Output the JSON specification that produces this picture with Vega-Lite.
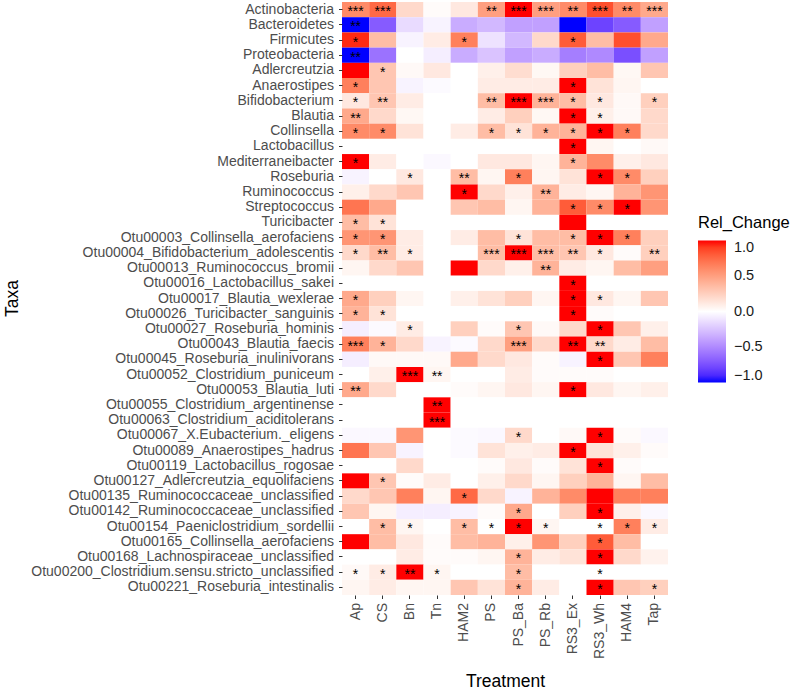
{
"$schema": "https://vega.github.io/schema/vega-lite/v6.json",
"width": 326, "height": 593,
"autosize": {"type": "none"},
"padding": {"left": 342, "top": 2, "right": 132, "bottom": 94},
"config": {"view": {"stroke": null}, "font": "Liberation Sans"},
"data": {"values": [
{"taxon":"Actinobacteria","trt":"Ap","value":0.6,"sig":"***"},{"taxon":"Actinobacteria","trt":"CS","value":0.75,"sig":"***"},{"taxon":"Actinobacteria","trt":"Bn","value":0.2,"sig":""},{"taxon":"Actinobacteria","trt":"Tn","value":0.02,"sig":""},{"taxon":"Actinobacteria","trt":"HAM2","value":0.12,"sig":""},{"taxon":"Actinobacteria","trt":"PS","value":0.5,"sig":"**"},{"taxon":"Actinobacteria","trt":"PS_Ba","value":1,"sig":"***"},{"taxon":"Actinobacteria","trt":"PS_Rb","value":0.5,"sig":"***"},{"taxon":"Actinobacteria","trt":"RS3_Ex","value":0.6,"sig":"**"},{"taxon":"Actinobacteria","trt":"RS3_Wh","value":0.85,"sig":"***"},{"taxon":"Actinobacteria","trt":"HAM4","value":0.6,"sig":"**"},{"taxon":"Actinobacteria","trt":"Tap","value":0.45,"sig":"***"},
{"taxon":"Bacteroidetes","trt":"Ap","value":-1,"sig":"**"},{"taxon":"Bacteroidetes","trt":"CS","value":-0.7,"sig":""},{"taxon":"Bacteroidetes","trt":"Bn","value":-0.15,"sig":""},{"taxon":"Bacteroidetes","trt":"Tn","value":-0.05,"sig":""},{"taxon":"Bacteroidetes","trt":"HAM2","value":-0.35,"sig":""},{"taxon":"Bacteroidetes","trt":"PS","value":-0.3,"sig":""},{"taxon":"Bacteroidetes","trt":"PS_Ba","value":-0.4,"sig":""},{"taxon":"Bacteroidetes","trt":"PS_Rb","value":-0.4,"sig":""},{"taxon":"Bacteroidetes","trt":"RS3_Ex","value":-1,"sig":""},{"taxon":"Bacteroidetes","trt":"RS3_Wh","value":-0.8,"sig":""},{"taxon":"Bacteroidetes","trt":"HAM4","value":-0.7,"sig":""},{"taxon":"Bacteroidetes","trt":"Tap","value":-0.4,"sig":""},
{"taxon":"Firmicutes","trt":"Ap","value":0.95,"sig":"*"},{"taxon":"Firmicutes","trt":"CS","value":0.35,"sig":""},{"taxon":"Firmicutes","trt":"Bn","value":-0.05,"sig":""},{"taxon":"Firmicutes","trt":"Tn","value":0.1,"sig":""},{"taxon":"Firmicutes","trt":"HAM2","value":0.65,"sig":"*"},{"taxon":"Firmicutes","trt":"PS","value":-0.12,"sig":""},{"taxon":"Firmicutes","trt":"PS_Ba","value":-0.3,"sig":""},{"taxon":"Firmicutes","trt":"PS_Rb","value":0.2,"sig":""},{"taxon":"Firmicutes","trt":"RS3_Ex","value":0.8,"sig":"*"},{"taxon":"Firmicutes","trt":"RS3_Wh","value":0.35,"sig":""},{"taxon":"Firmicutes","trt":"HAM4","value":0.85,"sig":""},{"taxon":"Firmicutes","trt":"Tap","value":0.45,"sig":""},
{"taxon":"Proteobacteria","trt":"Ap","value":-1,"sig":"**"},{"taxon":"Proteobacteria","trt":"CS","value":-0.6,"sig":""},{"taxon":"Proteobacteria","trt":"Bn","value":0,"sig":""},{"taxon":"Proteobacteria","trt":"Tn","value":-0.07,"sig":""},{"taxon":"Proteobacteria","trt":"HAM2","value":-0.35,"sig":""},{"taxon":"Proteobacteria","trt":"PS","value":-0.25,"sig":""},{"taxon":"Proteobacteria","trt":"PS_Ba","value":-0.4,"sig":""},{"taxon":"Proteobacteria","trt":"PS_Rb","value":-0.35,"sig":""},{"taxon":"Proteobacteria","trt":"RS3_Ex","value":-0.55,"sig":""},{"taxon":"Proteobacteria","trt":"RS3_Wh","value":-0.5,"sig":""},{"taxon":"Proteobacteria","trt":"HAM4","value":-0.75,"sig":""},{"taxon":"Proteobacteria","trt":"Tap","value":-0.4,"sig":""},
{"taxon":"Adlercreutzia","trt":"Ap","value":1,"sig":""},{"taxon":"Adlercreutzia","trt":"CS","value":0.3,"sig":"*"},{"taxon":"Adlercreutzia","trt":"Bn","value":0.03,"sig":""},{"taxon":"Adlercreutzia","trt":"Tn","value":0.12,"sig":""},{"taxon":"Adlercreutzia","trt":"HAM2","value":0,"sig":""},{"taxon":"Adlercreutzia","trt":"PS","value":0.08,"sig":""},{"taxon":"Adlercreutzia","trt":"PS_Ba","value":0.18,"sig":""},{"taxon":"Adlercreutzia","trt":"PS_Rb","value":0.04,"sig":""},{"taxon":"Adlercreutzia","trt":"RS3_Ex","value":0.25,"sig":""},{"taxon":"Adlercreutzia","trt":"RS3_Wh","value":0.35,"sig":""},{"taxon":"Adlercreutzia","trt":"HAM4","value":0.04,"sig":""},{"taxon":"Adlercreutzia","trt":"Tap","value":0.3,"sig":""},
{"taxon":"Anaerostipes","trt":"Ap","value":0.65,"sig":"*"},{"taxon":"Anaerostipes","trt":"CS","value":0.3,"sig":""},{"taxon":"Anaerostipes","trt":"Bn","value":-0.05,"sig":""},{"taxon":"Anaerostipes","trt":"Tn","value":-0.02,"sig":""},{"taxon":"Anaerostipes","trt":"HAM2","value":0,"sig":""},{"taxon":"Anaerostipes","trt":"PS","value":0.1,"sig":""},{"taxon":"Anaerostipes","trt":"PS_Ba","value":0.1,"sig":""},{"taxon":"Anaerostipes","trt":"PS_Rb","value":0.1,"sig":""},{"taxon":"Anaerostipes","trt":"RS3_Ex","value":1,"sig":"*"},{"taxon":"Anaerostipes","trt":"RS3_Wh","value":0.15,"sig":""},{"taxon":"Anaerostipes","trt":"HAM4","value":0.05,"sig":""},{"taxon":"Anaerostipes","trt":"Tap","value":0,"sig":""},
{"taxon":"Bifidobacterium","trt":"Ap","value":0.12,"sig":"*"},{"taxon":"Bifidobacterium","trt":"CS","value":0.3,"sig":"**"},{"taxon":"Bifidobacterium","trt":"Bn","value":0.1,"sig":""},{"taxon":"Bifidobacterium","trt":"Tn","value":0,"sig":""},{"taxon":"Bifidobacterium","trt":"HAM2","value":0,"sig":""},{"taxon":"Bifidobacterium","trt":"PS","value":0.35,"sig":"**"},{"taxon":"Bifidobacterium","trt":"PS_Ba","value":1,"sig":"***"},{"taxon":"Bifidobacterium","trt":"PS_Rb","value":0.4,"sig":"***"},{"taxon":"Bifidobacterium","trt":"RS3_Ex","value":0.35,"sig":"*"},{"taxon":"Bifidobacterium","trt":"RS3_Wh","value":0.12,"sig":"*"},{"taxon":"Bifidobacterium","trt":"HAM4","value":0.03,"sig":""},{"taxon":"Bifidobacterium","trt":"Tap","value":0.25,"sig":"*"},
{"taxon":"Blautia","trt":"Ap","value":0.45,"sig":"**"},{"taxon":"Blautia","trt":"CS","value":0.2,"sig":""},{"taxon":"Blautia","trt":"Bn","value":0.04,"sig":""},{"taxon":"Blautia","trt":"Tn","value":0,"sig":""},{"taxon":"Blautia","trt":"HAM2","value":0,"sig":""},{"taxon":"Blautia","trt":"PS","value":0.1,"sig":""},{"taxon":"Blautia","trt":"PS_Ba","value":0.25,"sig":""},{"taxon":"Blautia","trt":"PS_Rb","value":0.04,"sig":""},{"taxon":"Blautia","trt":"RS3_Ex","value":1,"sig":"*"},{"taxon":"Blautia","trt":"RS3_Wh","value":0.08,"sig":"*"},{"taxon":"Blautia","trt":"HAM4","value":0.03,"sig":""},{"taxon":"Blautia","trt":"Tap","value":0.2,"sig":""},
{"taxon":"Collinsella","trt":"Ap","value":0.6,"sig":"*"},{"taxon":"Collinsella","trt":"CS","value":0.6,"sig":"*"},{"taxon":"Collinsella","trt":"Bn","value":0.15,"sig":""},{"taxon":"Collinsella","trt":"Tn","value":0,"sig":""},{"taxon":"Collinsella","trt":"HAM2","value":0.1,"sig":""},{"taxon":"Collinsella","trt":"PS","value":0.35,"sig":"*"},{"taxon":"Collinsella","trt":"PS_Ba","value":0.15,"sig":"*"},{"taxon":"Collinsella","trt":"PS_Rb","value":0.4,"sig":"*"},{"taxon":"Collinsella","trt":"RS3_Ex","value":0.4,"sig":"*"},{"taxon":"Collinsella","trt":"RS3_Wh","value":1,"sig":"*"},{"taxon":"Collinsella","trt":"HAM4","value":0.65,"sig":"*"},{"taxon":"Collinsella","trt":"Tap","value":0.2,"sig":""},
{"taxon":"Lactobacillus","trt":"Ap","value":0,"sig":""},{"taxon":"Lactobacillus","trt":"CS","value":0,"sig":""},{"taxon":"Lactobacillus","trt":"Bn","value":0,"sig":""},{"taxon":"Lactobacillus","trt":"Tn","value":0,"sig":""},{"taxon":"Lactobacillus","trt":"HAM2","value":0,"sig":""},{"taxon":"Lactobacillus","trt":"PS","value":0,"sig":""},{"taxon":"Lactobacillus","trt":"PS_Ba","value":0,"sig":""},{"taxon":"Lactobacillus","trt":"PS_Rb","value":0,"sig":""},{"taxon":"Lactobacillus","trt":"RS3_Ex","value":1,"sig":"*"},{"taxon":"Lactobacillus","trt":"RS3_Wh","value":0.05,"sig":""},{"taxon":"Lactobacillus","trt":"HAM4","value":0,"sig":""},{"taxon":"Lactobacillus","trt":"Tap","value":0.03,"sig":""},
{"taxon":"Mediterraneibacter","trt":"Ap","value":1,"sig":"*"},{"taxon":"Mediterraneibacter","trt":"CS","value":0.1,"sig":""},{"taxon":"Mediterraneibacter","trt":"Bn","value":0,"sig":""},{"taxon":"Mediterraneibacter","trt":"Tn","value":-0.03,"sig":""},{"taxon":"Mediterraneibacter","trt":"HAM2","value":0,"sig":""},{"taxon":"Mediterraneibacter","trt":"PS","value":0.12,"sig":""},{"taxon":"Mediterraneibacter","trt":"PS_Ba","value":0.12,"sig":""},{"taxon":"Mediterraneibacter","trt":"PS_Rb","value":0.05,"sig":""},{"taxon":"Mediterraneibacter","trt":"RS3_Ex","value":0.4,"sig":"*"},{"taxon":"Mediterraneibacter","trt":"RS3_Wh","value":0.6,"sig":""},{"taxon":"Mediterraneibacter","trt":"HAM4","value":0.08,"sig":""},{"taxon":"Mediterraneibacter","trt":"Tap","value":0.12,"sig":""},
{"taxon":"Roseburia","trt":"Ap","value":-0.05,"sig":""},{"taxon":"Roseburia","trt":"CS","value":0,"sig":""},{"taxon":"Roseburia","trt":"Bn","value":0.12,"sig":"*"},{"taxon":"Roseburia","trt":"Tn","value":0,"sig":""},{"taxon":"Roseburia","trt":"HAM2","value":0.35,"sig":"**"},{"taxon":"Roseburia","trt":"PS","value":0.05,"sig":""},{"taxon":"Roseburia","trt":"PS_Ba","value":0.65,"sig":"*"},{"taxon":"Roseburia","trt":"PS_Rb","value":0.05,"sig":""},{"taxon":"Roseburia","trt":"RS3_Ex","value":0.15,"sig":""},{"taxon":"Roseburia","trt":"RS3_Wh","value":1,"sig":"*"},{"taxon":"Roseburia","trt":"HAM4","value":0.6,"sig":"*"},{"taxon":"Roseburia","trt":"Tap","value":0.25,"sig":""},
{"taxon":"Ruminococcus","trt":"Ap","value":0.08,"sig":""},{"taxon":"Ruminococcus","trt":"CS","value":0.2,"sig":""},{"taxon":"Ruminococcus","trt":"Bn","value":0.3,"sig":""},{"taxon":"Ruminococcus","trt":"Tn","value":0,"sig":""},{"taxon":"Ruminococcus","trt":"HAM2","value":1,"sig":"*"},{"taxon":"Ruminococcus","trt":"PS","value":0.2,"sig":""},{"taxon":"Ruminococcus","trt":"PS_Ba","value":0.08,"sig":""},{"taxon":"Ruminococcus","trt":"PS_Rb","value":0.4,"sig":"**"},{"taxon":"Ruminococcus","trt":"RS3_Ex","value":0.1,"sig":""},{"taxon":"Ruminococcus","trt":"RS3_Wh","value":0.05,"sig":""},{"taxon":"Ruminococcus","trt":"HAM4","value":0.4,"sig":""},{"taxon":"Ruminococcus","trt":"Tap","value":0.55,"sig":""},
{"taxon":"Streptococcus","trt":"Ap","value":0.7,"sig":""},{"taxon":"Streptococcus","trt":"CS","value":0.45,"sig":""},{"taxon":"Streptococcus","trt":"Bn","value":0,"sig":""},{"taxon":"Streptococcus","trt":"Tn","value":0,"sig":""},{"taxon":"Streptococcus","trt":"HAM2","value":0.3,"sig":""},{"taxon":"Streptococcus","trt":"PS","value":0.35,"sig":""},{"taxon":"Streptococcus","trt":"PS_Ba","value":0.05,"sig":""},{"taxon":"Streptococcus","trt":"PS_Rb","value":0.4,"sig":""},{"taxon":"Streptococcus","trt":"RS3_Ex","value":0.8,"sig":"*"},{"taxon":"Streptococcus","trt":"RS3_Wh","value":0.6,"sig":"*"},{"taxon":"Streptococcus","trt":"HAM4","value":1,"sig":"*"},{"taxon":"Streptococcus","trt":"Tap","value":0.55,"sig":""},
{"taxon":"Turicibacter","trt":"Ap","value":0.35,"sig":"*"},{"taxon":"Turicibacter","trt":"CS","value":0.15,"sig":"*"},{"taxon":"Turicibacter","trt":"Bn","value":0,"sig":""},{"taxon":"Turicibacter","trt":"Tn","value":0,"sig":""},{"taxon":"Turicibacter","trt":"HAM2","value":0,"sig":""},{"taxon":"Turicibacter","trt":"PS","value":0,"sig":""},{"taxon":"Turicibacter","trt":"PS_Ba","value":0,"sig":""},{"taxon":"Turicibacter","trt":"PS_Rb","value":0,"sig":""},{"taxon":"Turicibacter","trt":"RS3_Ex","value":1,"sig":""},{"taxon":"Turicibacter","trt":"RS3_Wh","value":0,"sig":""},{"taxon":"Turicibacter","trt":"HAM4","value":0,"sig":""},{"taxon":"Turicibacter","trt":"Tap","value":0,"sig":""},
{"taxon":"Otu00003_Collinsella_aerofaciens","trt":"Ap","value":0.55,"sig":"*"},{"taxon":"Otu00003_Collinsella_aerofaciens","trt":"CS","value":0.55,"sig":"*"},{"taxon":"Otu00003_Collinsella_aerofaciens","trt":"Bn","value":0.1,"sig":""},{"taxon":"Otu00003_Collinsella_aerofaciens","trt":"Tn","value":0,"sig":""},{"taxon":"Otu00003_Collinsella_aerofaciens","trt":"HAM2","value":0.1,"sig":""},{"taxon":"Otu00003_Collinsella_aerofaciens","trt":"PS","value":0.35,"sig":""},{"taxon":"Otu00003_Collinsella_aerofaciens","trt":"PS_Ba","value":0.15,"sig":"*"},{"taxon":"Otu00003_Collinsella_aerofaciens","trt":"PS_Rb","value":0.35,"sig":""},{"taxon":"Otu00003_Collinsella_aerofaciens","trt":"RS3_Ex","value":0.35,"sig":"*"},{"taxon":"Otu00003_Collinsella_aerofaciens","trt":"RS3_Wh","value":1,"sig":"*"},{"taxon":"Otu00003_Collinsella_aerofaciens","trt":"HAM4","value":0.65,"sig":"*"},{"taxon":"Otu00003_Collinsella_aerofaciens","trt":"Tap","value":0.25,"sig":""},
{"taxon":"Otu00004_Bifidobacterium_adolescentis","trt":"Ap","value":0.2,"sig":"*"},{"taxon":"Otu00004_Bifidobacterium_adolescentis","trt":"CS","value":0.35,"sig":"**"},{"taxon":"Otu00004_Bifidobacterium_adolescentis","trt":"Bn","value":0.1,"sig":"*"},{"taxon":"Otu00004_Bifidobacterium_adolescentis","trt":"Tn","value":0,"sig":""},{"taxon":"Otu00004_Bifidobacterium_adolescentis","trt":"HAM2","value":0,"sig":""},{"taxon":"Otu00004_Bifidobacterium_adolescentis","trt":"PS","value":0.35,"sig":"***"},{"taxon":"Otu00004_Bifidobacterium_adolescentis","trt":"PS_Ba","value":1,"sig":"***"},{"taxon":"Otu00004_Bifidobacterium_adolescentis","trt":"PS_Rb","value":0.35,"sig":"***"},{"taxon":"Otu00004_Bifidobacterium_adolescentis","trt":"RS3_Ex","value":0.3,"sig":"**"},{"taxon":"Otu00004_Bifidobacterium_adolescentis","trt":"RS3_Wh","value":0.12,"sig":"*"},{"taxon":"Otu00004_Bifidobacterium_adolescentis","trt":"HAM4","value":0.02,"sig":""},{"taxon":"Otu00004_Bifidobacterium_adolescentis","trt":"Tap","value":0.25,"sig":"**"},
{"taxon":"Otu00013_Ruminococcus_bromii","trt":"Ap","value":0.05,"sig":""},{"taxon":"Otu00013_Ruminococcus_bromii","trt":"CS","value":0.2,"sig":""},{"taxon":"Otu00013_Ruminococcus_bromii","trt":"Bn","value":0.3,"sig":""},{"taxon":"Otu00013_Ruminococcus_bromii","trt":"Tn","value":0,"sig":""},{"taxon":"Otu00013_Ruminococcus_bromii","trt":"HAM2","value":1,"sig":""},{"taxon":"Otu00013_Ruminococcus_bromii","trt":"PS","value":0.2,"sig":""},{"taxon":"Otu00013_Ruminococcus_bromii","trt":"PS_Ba","value":0.08,"sig":""},{"taxon":"Otu00013_Ruminococcus_bromii","trt":"PS_Rb","value":0.4,"sig":"**"},{"taxon":"Otu00013_Ruminococcus_bromii","trt":"RS3_Ex","value":0.1,"sig":""},{"taxon":"Otu00013_Ruminococcus_bromii","trt":"RS3_Wh","value":0.05,"sig":""},{"taxon":"Otu00013_Ruminococcus_bromii","trt":"HAM4","value":0.35,"sig":""},{"taxon":"Otu00013_Ruminococcus_bromii","trt":"Tap","value":0.5,"sig":""},
{"taxon":"Otu00016_Lactobacillus_sakei","trt":"Ap","value":0,"sig":""},{"taxon":"Otu00016_Lactobacillus_sakei","trt":"CS","value":0,"sig":""},{"taxon":"Otu00016_Lactobacillus_sakei","trt":"Bn","value":0,"sig":""},{"taxon":"Otu00016_Lactobacillus_sakei","trt":"Tn","value":0,"sig":""},{"taxon":"Otu00016_Lactobacillus_sakei","trt":"HAM2","value":0,"sig":""},{"taxon":"Otu00016_Lactobacillus_sakei","trt":"PS","value":0,"sig":""},{"taxon":"Otu00016_Lactobacillus_sakei","trt":"PS_Ba","value":0,"sig":""},{"taxon":"Otu00016_Lactobacillus_sakei","trt":"PS_Rb","value":0,"sig":""},{"taxon":"Otu00016_Lactobacillus_sakei","trt":"RS3_Ex","value":1,"sig":"*"},{"taxon":"Otu00016_Lactobacillus_sakei","trt":"RS3_Wh","value":0,"sig":""},{"taxon":"Otu00016_Lactobacillus_sakei","trt":"HAM4","value":0,"sig":""},{"taxon":"Otu00016_Lactobacillus_sakei","trt":"Tap","value":0,"sig":""},
{"taxon":"Otu00017_Blautia_wexlerae","trt":"Ap","value":0.45,"sig":"*"},{"taxon":"Otu00017_Blautia_wexlerae","trt":"CS","value":0.25,"sig":""},{"taxon":"Otu00017_Blautia_wexlerae","trt":"Bn","value":0.05,"sig":""},{"taxon":"Otu00017_Blautia_wexlerae","trt":"Tn","value":0,"sig":""},{"taxon":"Otu00017_Blautia_wexlerae","trt":"HAM2","value":0.08,"sig":""},{"taxon":"Otu00017_Blautia_wexlerae","trt":"PS","value":0.15,"sig":""},{"taxon":"Otu00017_Blautia_wexlerae","trt":"PS_Ba","value":0.25,"sig":""},{"taxon":"Otu00017_Blautia_wexlerae","trt":"PS_Rb","value":0.05,"sig":""},{"taxon":"Otu00017_Blautia_wexlerae","trt":"RS3_Ex","value":1,"sig":"*"},{"taxon":"Otu00017_Blautia_wexlerae","trt":"RS3_Wh","value":0.12,"sig":"*"},{"taxon":"Otu00017_Blautia_wexlerae","trt":"HAM4","value":0.05,"sig":""},{"taxon":"Otu00017_Blautia_wexlerae","trt":"Tap","value":0.3,"sig":""},
{"taxon":"Otu00026_Turicibacter_sanguinis","trt":"Ap","value":0.4,"sig":"*"},{"taxon":"Otu00026_Turicibacter_sanguinis","trt":"CS","value":0.15,"sig":"*"},{"taxon":"Otu00026_Turicibacter_sanguinis","trt":"Bn","value":0,"sig":""},{"taxon":"Otu00026_Turicibacter_sanguinis","trt":"Tn","value":0,"sig":""},{"taxon":"Otu00026_Turicibacter_sanguinis","trt":"HAM2","value":0,"sig":""},{"taxon":"Otu00026_Turicibacter_sanguinis","trt":"PS","value":0,"sig":""},{"taxon":"Otu00026_Turicibacter_sanguinis","trt":"PS_Ba","value":0,"sig":""},{"taxon":"Otu00026_Turicibacter_sanguinis","trt":"PS_Rb","value":0,"sig":""},{"taxon":"Otu00026_Turicibacter_sanguinis","trt":"RS3_Ex","value":1,"sig":"*"},{"taxon":"Otu00026_Turicibacter_sanguinis","trt":"RS3_Wh","value":0.02,"sig":""},{"taxon":"Otu00026_Turicibacter_sanguinis","trt":"HAM4","value":0,"sig":""},{"taxon":"Otu00026_Turicibacter_sanguinis","trt":"Tap","value":0,"sig":""},
{"taxon":"Otu00027_Roseburia_hominis","trt":"Ap","value":-0.07,"sig":""},{"taxon":"Otu00027_Roseburia_hominis","trt":"CS","value":-0.02,"sig":""},{"taxon":"Otu00027_Roseburia_hominis","trt":"Bn","value":0.1,"sig":"*"},{"taxon":"Otu00027_Roseburia_hominis","trt":"Tn","value":0,"sig":""},{"taxon":"Otu00027_Roseburia_hominis","trt":"HAM2","value":0.25,"sig":""},{"taxon":"Otu00027_Roseburia_hominis","trt":"PS","value":0.02,"sig":""},{"taxon":"Otu00027_Roseburia_hominis","trt":"PS_Ba","value":0.3,"sig":"*"},{"taxon":"Otu00027_Roseburia_hominis","trt":"PS_Rb","value":0.03,"sig":""},{"taxon":"Otu00027_Roseburia_hominis","trt":"RS3_Ex","value":0.2,"sig":""},{"taxon":"Otu00027_Roseburia_hominis","trt":"RS3_Wh","value":1,"sig":"*"},{"taxon":"Otu00027_Roseburia_hominis","trt":"HAM4","value":0.3,"sig":""},{"taxon":"Otu00027_Roseburia_hominis","trt":"Tap","value":0.08,"sig":""},
{"taxon":"Otu00043_Blautia_faecis","trt":"Ap","value":0.65,"sig":"***"},{"taxon":"Otu00043_Blautia_faecis","trt":"CS","value":0.4,"sig":"*"},{"taxon":"Otu00043_Blautia_faecis","trt":"Bn","value":0.2,"sig":""},{"taxon":"Otu00043_Blautia_faecis","trt":"Tn","value":-0.05,"sig":""},{"taxon":"Otu00043_Blautia_faecis","trt":"HAM2","value":-0.02,"sig":""},{"taxon":"Otu00043_Blautia_faecis","trt":"PS","value":0.2,"sig":""},{"taxon":"Otu00043_Blautia_faecis","trt":"PS_Ba","value":0.5,"sig":"***"},{"taxon":"Otu00043_Blautia_faecis","trt":"PS_Rb","value":0.2,"sig":""},{"taxon":"Otu00043_Blautia_faecis","trt":"RS3_Ex","value":1,"sig":"**"},{"taxon":"Otu00043_Blautia_faecis","trt":"RS3_Wh","value":0.2,"sig":"**"},{"taxon":"Otu00043_Blautia_faecis","trt":"HAM4","value":0.1,"sig":""},{"taxon":"Otu00043_Blautia_faecis","trt":"Tap","value":0.35,"sig":""},
{"taxon":"Otu00045_Roseburia_inulinivorans","trt":"Ap","value":-0.07,"sig":""},{"taxon":"Otu00045_Roseburia_inulinivorans","trt":"CS","value":0.03,"sig":""},{"taxon":"Otu00045_Roseburia_inulinivorans","trt":"Bn","value":0.03,"sig":""},{"taxon":"Otu00045_Roseburia_inulinivorans","trt":"Tn","value":0.03,"sig":""},{"taxon":"Otu00045_Roseburia_inulinivorans","trt":"HAM2","value":0.45,"sig":""},{"taxon":"Otu00045_Roseburia_inulinivorans","trt":"PS","value":0.2,"sig":""},{"taxon":"Otu00045_Roseburia_inulinivorans","trt":"PS_Ba","value":0.12,"sig":""},{"taxon":"Otu00045_Roseburia_inulinivorans","trt":"PS_Rb","value":0.02,"sig":""},{"taxon":"Otu00045_Roseburia_inulinivorans","trt":"RS3_Ex","value":-0.05,"sig":""},{"taxon":"Otu00045_Roseburia_inulinivorans","trt":"RS3_Wh","value":1,"sig":"*"},{"taxon":"Otu00045_Roseburia_inulinivorans","trt":"HAM4","value":0.3,"sig":""},{"taxon":"Otu00045_Roseburia_inulinivorans","trt":"Tap","value":0.65,"sig":""},
{"taxon":"Otu00052_Clostridium_puniceum","trt":"Ap","value":0,"sig":""},{"taxon":"Otu00052_Clostridium_puniceum","trt":"CS","value":0.08,"sig":""},{"taxon":"Otu00052_Clostridium_puniceum","trt":"Bn","value":1,"sig":"***"},{"taxon":"Otu00052_Clostridium_puniceum","trt":"Tn","value":0.05,"sig":"**"},{"taxon":"Otu00052_Clostridium_puniceum","trt":"HAM2","value":0,"sig":""},{"taxon":"Otu00052_Clostridium_puniceum","trt":"PS","value":0,"sig":""},{"taxon":"Otu00052_Clostridium_puniceum","trt":"PS_Ba","value":0.1,"sig":""},{"taxon":"Otu00052_Clostridium_puniceum","trt":"PS_Rb","value":0.02,"sig":""},{"taxon":"Otu00052_Clostridium_puniceum","trt":"RS3_Ex","value":0.02,"sig":""},{"taxon":"Otu00052_Clostridium_puniceum","trt":"RS3_Wh","value":0.02,"sig":""},{"taxon":"Otu00052_Clostridium_puniceum","trt":"HAM4","value":0,"sig":""},{"taxon":"Otu00052_Clostridium_puniceum","trt":"Tap","value":0,"sig":""},
{"taxon":"Otu00053_Blautia_luti","trt":"Ap","value":0.45,"sig":"**"},{"taxon":"Otu00053_Blautia_luti","trt":"CS","value":0.2,"sig":""},{"taxon":"Otu00053_Blautia_luti","trt":"Bn","value":0,"sig":""},{"taxon":"Otu00053_Blautia_luti","trt":"Tn","value":0,"sig":""},{"taxon":"Otu00053_Blautia_luti","trt":"HAM2","value":0.02,"sig":""},{"taxon":"Otu00053_Blautia_luti","trt":"PS","value":0.05,"sig":""},{"taxon":"Otu00053_Blautia_luti","trt":"PS_Ba","value":0.12,"sig":""},{"taxon":"Otu00053_Blautia_luti","trt":"PS_Rb","value":0.05,"sig":""},{"taxon":"Otu00053_Blautia_luti","trt":"RS3_Ex","value":1,"sig":"*"},{"taxon":"Otu00053_Blautia_luti","trt":"RS3_Wh","value":0.12,"sig":""},{"taxon":"Otu00053_Blautia_luti","trt":"HAM4","value":0.05,"sig":""},{"taxon":"Otu00053_Blautia_luti","trt":"Tap","value":0.08,"sig":""},
{"taxon":"Otu00055_Clostridium_argentinense","trt":"Ap","value":0,"sig":""},{"taxon":"Otu00055_Clostridium_argentinense","trt":"CS","value":0,"sig":""},{"taxon":"Otu00055_Clostridium_argentinense","trt":"Bn","value":0,"sig":""},{"taxon":"Otu00055_Clostridium_argentinense","trt":"Tn","value":1,"sig":"**"},{"taxon":"Otu00055_Clostridium_argentinense","trt":"HAM2","value":0,"sig":""},{"taxon":"Otu00055_Clostridium_argentinense","trt":"PS","value":0,"sig":""},{"taxon":"Otu00055_Clostridium_argentinense","trt":"PS_Ba","value":0,"sig":""},{"taxon":"Otu00055_Clostridium_argentinense","trt":"PS_Rb","value":0,"sig":""},{"taxon":"Otu00055_Clostridium_argentinense","trt":"RS3_Ex","value":0,"sig":""},{"taxon":"Otu00055_Clostridium_argentinense","trt":"RS3_Wh","value":0,"sig":""},{"taxon":"Otu00055_Clostridium_argentinense","trt":"HAM4","value":0,"sig":""},{"taxon":"Otu00055_Clostridium_argentinense","trt":"Tap","value":0,"sig":""},
{"taxon":"Otu00063_Clostridium_aciditolerans","trt":"Ap","value":0,"sig":""},{"taxon":"Otu00063_Clostridium_aciditolerans","trt":"CS","value":0,"sig":""},{"taxon":"Otu00063_Clostridium_aciditolerans","trt":"Bn","value":0,"sig":""},{"taxon":"Otu00063_Clostridium_aciditolerans","trt":"Tn","value":1,"sig":"***"},{"taxon":"Otu00063_Clostridium_aciditolerans","trt":"HAM2","value":0,"sig":""},{"taxon":"Otu00063_Clostridium_aciditolerans","trt":"PS","value":0,"sig":""},{"taxon":"Otu00063_Clostridium_aciditolerans","trt":"PS_Ba","value":0,"sig":""},{"taxon":"Otu00063_Clostridium_aciditolerans","trt":"PS_Rb","value":0,"sig":""},{"taxon":"Otu00063_Clostridium_aciditolerans","trt":"RS3_Ex","value":0,"sig":""},{"taxon":"Otu00063_Clostridium_aciditolerans","trt":"RS3_Wh","value":0,"sig":""},{"taxon":"Otu00063_Clostridium_aciditolerans","trt":"HAM4","value":0,"sig":""},{"taxon":"Otu00063_Clostridium_aciditolerans","trt":"Tap","value":0,"sig":""},
{"taxon":"Otu00067_X.Eubacterium._eligens","trt":"Ap","value":-0.03,"sig":""},{"taxon":"Otu00067_X.Eubacterium._eligens","trt":"CS","value":-0.03,"sig":""},{"taxon":"Otu00067_X.Eubacterium._eligens","trt":"Bn","value":0.55,"sig":""},{"taxon":"Otu00067_X.Eubacterium._eligens","trt":"Tn","value":0,"sig":""},{"taxon":"Otu00067_X.Eubacterium._eligens","trt":"HAM2","value":-0.02,"sig":""},{"taxon":"Otu00067_X.Eubacterium._eligens","trt":"PS","value":-0.03,"sig":""},{"taxon":"Otu00067_X.Eubacterium._eligens","trt":"PS_Ba","value":0.2,"sig":"*"},{"taxon":"Otu00067_X.Eubacterium._eligens","trt":"PS_Rb","value":0,"sig":""},{"taxon":"Otu00067_X.Eubacterium._eligens","trt":"RS3_Ex","value":0.03,"sig":""},{"taxon":"Otu00067_X.Eubacterium._eligens","trt":"RS3_Wh","value":1,"sig":"*"},{"taxon":"Otu00067_X.Eubacterium._eligens","trt":"HAM4","value":0.02,"sig":""},{"taxon":"Otu00067_X.Eubacterium._eligens","trt":"Tap","value":-0.03,"sig":""},
{"taxon":"Otu00089_Anaerostipes_hadrus","trt":"Ap","value":0.7,"sig":""},{"taxon":"Otu00089_Anaerostipes_hadrus","trt":"CS","value":0.3,"sig":""},{"taxon":"Otu00089_Anaerostipes_hadrus","trt":"Bn","value":-0.05,"sig":""},{"taxon":"Otu00089_Anaerostipes_hadrus","trt":"Tn","value":0,"sig":""},{"taxon":"Otu00089_Anaerostipes_hadrus","trt":"HAM2","value":-0.02,"sig":""},{"taxon":"Otu00089_Anaerostipes_hadrus","trt":"PS","value":0.15,"sig":""},{"taxon":"Otu00089_Anaerostipes_hadrus","trt":"PS_Ba","value":0.08,"sig":""},{"taxon":"Otu00089_Anaerostipes_hadrus","trt":"PS_Rb","value":0.1,"sig":""},{"taxon":"Otu00089_Anaerostipes_hadrus","trt":"RS3_Ex","value":1,"sig":"*"},{"taxon":"Otu00089_Anaerostipes_hadrus","trt":"RS3_Wh","value":0.15,"sig":""},{"taxon":"Otu00089_Anaerostipes_hadrus","trt":"HAM4","value":0.08,"sig":""},{"taxon":"Otu00089_Anaerostipes_hadrus","trt":"Tap","value":0.02,"sig":""},
{"taxon":"Otu00119_Lactobacillus_rogosae","trt":"Ap","value":0,"sig":""},{"taxon":"Otu00119_Lactobacillus_rogosae","trt":"CS","value":0,"sig":""},{"taxon":"Otu00119_Lactobacillus_rogosae","trt":"Bn","value":0.2,"sig":""},{"taxon":"Otu00119_Lactobacillus_rogosae","trt":"Tn","value":0,"sig":""},{"taxon":"Otu00119_Lactobacillus_rogosae","trt":"HAM2","value":0,"sig":""},{"taxon":"Otu00119_Lactobacillus_rogosae","trt":"PS","value":0.02,"sig":""},{"taxon":"Otu00119_Lactobacillus_rogosae","trt":"PS_Ba","value":0.12,"sig":""},{"taxon":"Otu00119_Lactobacillus_rogosae","trt":"PS_Rb","value":0.02,"sig":""},{"taxon":"Otu00119_Lactobacillus_rogosae","trt":"RS3_Ex","value":0.15,"sig":""},{"taxon":"Otu00119_Lactobacillus_rogosae","trt":"RS3_Wh","value":1,"sig":"*"},{"taxon":"Otu00119_Lactobacillus_rogosae","trt":"HAM4","value":0.02,"sig":""},{"taxon":"Otu00119_Lactobacillus_rogosae","trt":"Tap","value":0,"sig":""},
{"taxon":"Otu00127_Adlercreutzia_equolifaciens","trt":"Ap","value":1,"sig":""},{"taxon":"Otu00127_Adlercreutzia_equolifaciens","trt":"CS","value":0.3,"sig":"*"},{"taxon":"Otu00127_Adlercreutzia_equolifaciens","trt":"Bn","value":0.02,"sig":""},{"taxon":"Otu00127_Adlercreutzia_equolifaciens","trt":"Tn","value":0.1,"sig":""},{"taxon":"Otu00127_Adlercreutzia_equolifaciens","trt":"HAM2","value":0,"sig":""},{"taxon":"Otu00127_Adlercreutzia_equolifaciens","trt":"PS","value":0.08,"sig":""},{"taxon":"Otu00127_Adlercreutzia_equolifaciens","trt":"PS_Ba","value":0.2,"sig":""},{"taxon":"Otu00127_Adlercreutzia_equolifaciens","trt":"PS_Rb","value":0.05,"sig":""},{"taxon":"Otu00127_Adlercreutzia_equolifaciens","trt":"RS3_Ex","value":0.25,"sig":""},{"taxon":"Otu00127_Adlercreutzia_equolifaciens","trt":"RS3_Wh","value":0.4,"sig":""},{"taxon":"Otu00127_Adlercreutzia_equolifaciens","trt":"HAM4","value":0.05,"sig":""},{"taxon":"Otu00127_Adlercreutzia_equolifaciens","trt":"Tap","value":0.35,"sig":""},
{"taxon":"Otu00135_Ruminococcaceae_unclassified","trt":"Ap","value":0.2,"sig":""},{"taxon":"Otu00135_Ruminococcaceae_unclassified","trt":"CS","value":0.3,"sig":""},{"taxon":"Otu00135_Ruminococcaceae_unclassified","trt":"Bn","value":0.65,"sig":""},{"taxon":"Otu00135_Ruminococcaceae_unclassified","trt":"Tn","value":0.05,"sig":""},{"taxon":"Otu00135_Ruminococcaceae_unclassified","trt":"HAM2","value":0.75,"sig":"*"},{"taxon":"Otu00135_Ruminococcaceae_unclassified","trt":"PS","value":0.2,"sig":""},{"taxon":"Otu00135_Ruminococcaceae_unclassified","trt":"PS_Ba","value":-0.05,"sig":""},{"taxon":"Otu00135_Ruminococcaceae_unclassified","trt":"PS_Rb","value":0.4,"sig":""},{"taxon":"Otu00135_Ruminococcaceae_unclassified","trt":"RS3_Ex","value":0.6,"sig":""},{"taxon":"Otu00135_Ruminococcaceae_unclassified","trt":"RS3_Wh","value":1,"sig":""},{"taxon":"Otu00135_Ruminococcaceae_unclassified","trt":"HAM4","value":0.65,"sig":""},{"taxon":"Otu00135_Ruminococcaceae_unclassified","trt":"Tap","value":0.65,"sig":""},
{"taxon":"Otu00142_Ruminococcaceae_unclassified","trt":"Ap","value":0.3,"sig":""},{"taxon":"Otu00142_Ruminococcaceae_unclassified","trt":"CS","value":0.05,"sig":""},{"taxon":"Otu00142_Ruminococcaceae_unclassified","trt":"Bn","value":-0.07,"sig":""},{"taxon":"Otu00142_Ruminococcaceae_unclassified","trt":"Tn","value":-0.07,"sig":""},{"taxon":"Otu00142_Ruminococcaceae_unclassified","trt":"HAM2","value":-0.05,"sig":""},{"taxon":"Otu00142_Ruminococcaceae_unclassified","trt":"PS","value":0.02,"sig":""},{"taxon":"Otu00142_Ruminococcaceae_unclassified","trt":"PS_Ba","value":0.45,"sig":"*"},{"taxon":"Otu00142_Ruminococcaceae_unclassified","trt":"PS_Rb","value":0,"sig":""},{"taxon":"Otu00142_Ruminococcaceae_unclassified","trt":"RS3_Ex","value":0.25,"sig":""},{"taxon":"Otu00142_Ruminococcaceae_unclassified","trt":"RS3_Wh","value":1,"sig":"*"},{"taxon":"Otu00142_Ruminococcaceae_unclassified","trt":"HAM4","value":0.08,"sig":""},{"taxon":"Otu00142_Ruminococcaceae_unclassified","trt":"Tap","value":-0.03,"sig":""},
{"taxon":"Otu00154_Paeniclostridium_sordellii","trt":"Ap","value":0,"sig":""},{"taxon":"Otu00154_Paeniclostridium_sordellii","trt":"CS","value":0.35,"sig":"*"},{"taxon":"Otu00154_Paeniclostridium_sordellii","trt":"Bn","value":0.05,"sig":"*"},{"taxon":"Otu00154_Paeniclostridium_sordellii","trt":"Tn","value":0,"sig":""},{"taxon":"Otu00154_Paeniclostridium_sordellii","trt":"HAM2","value":0.35,"sig":"*"},{"taxon":"Otu00154_Paeniclostridium_sordellii","trt":"PS","value":0,"sig":"*"},{"taxon":"Otu00154_Paeniclostridium_sordellii","trt":"PS_Ba","value":1,"sig":"*"},{"taxon":"Otu00154_Paeniclostridium_sordellii","trt":"PS_Rb","value":0.05,"sig":"*"},{"taxon":"Otu00154_Paeniclostridium_sordellii","trt":"RS3_Ex","value":0,"sig":""},{"taxon":"Otu00154_Paeniclostridium_sordellii","trt":"RS3_Wh","value":0,"sig":"*"},{"taxon":"Otu00154_Paeniclostridium_sordellii","trt":"HAM4","value":0.65,"sig":"*"},{"taxon":"Otu00154_Paeniclostridium_sordellii","trt":"Tap","value":0.1,"sig":"*"},
{"taxon":"Otu00165_Collinsella_aerofaciens","trt":"Ap","value":1,"sig":""},{"taxon":"Otu00165_Collinsella_aerofaciens","trt":"CS","value":0.35,"sig":""},{"taxon":"Otu00165_Collinsella_aerofaciens","trt":"Bn","value":0.12,"sig":""},{"taxon":"Otu00165_Collinsella_aerofaciens","trt":"Tn","value":0.02,"sig":""},{"taxon":"Otu00165_Collinsella_aerofaciens","trt":"HAM2","value":0.35,"sig":""},{"taxon":"Otu00165_Collinsella_aerofaciens","trt":"PS","value":0.4,"sig":""},{"taxon":"Otu00165_Collinsella_aerofaciens","trt":"PS_Ba","value":0.08,"sig":""},{"taxon":"Otu00165_Collinsella_aerofaciens","trt":"PS_Rb","value":0.55,"sig":""},{"taxon":"Otu00165_Collinsella_aerofaciens","trt":"RS3_Ex","value":0.25,"sig":""},{"taxon":"Otu00165_Collinsella_aerofaciens","trt":"RS3_Wh","value":0.8,"sig":"*"},{"taxon":"Otu00165_Collinsella_aerofaciens","trt":"HAM4","value":0.35,"sig":""},{"taxon":"Otu00165_Collinsella_aerofaciens","trt":"Tap","value":0,"sig":""},
{"taxon":"Otu00168_Lachnospiraceae_unclassified","trt":"Ap","value":0,"sig":""},{"taxon":"Otu00168_Lachnospiraceae_unclassified","trt":"CS","value":0,"sig":""},{"taxon":"Otu00168_Lachnospiraceae_unclassified","trt":"Bn","value":0.1,"sig":""},{"taxon":"Otu00168_Lachnospiraceae_unclassified","trt":"Tn","value":0.02,"sig":""},{"taxon":"Otu00168_Lachnospiraceae_unclassified","trt":"HAM2","value":0.02,"sig":""},{"taxon":"Otu00168_Lachnospiraceae_unclassified","trt":"PS","value":0.05,"sig":""},{"taxon":"Otu00168_Lachnospiraceae_unclassified","trt":"PS_Ba","value":0.4,"sig":"*"},{"taxon":"Otu00168_Lachnospiraceae_unclassified","trt":"PS_Rb","value":0.1,"sig":""},{"taxon":"Otu00168_Lachnospiraceae_unclassified","trt":"RS3_Ex","value":0.15,"sig":""},{"taxon":"Otu00168_Lachnospiraceae_unclassified","trt":"RS3_Wh","value":1,"sig":"*"},{"taxon":"Otu00168_Lachnospiraceae_unclassified","trt":"HAM4","value":0.2,"sig":""},{"taxon":"Otu00168_Lachnospiraceae_unclassified","trt":"Tap","value":0.07,"sig":""},
{"taxon":"Otu00200_Clostridium.sensu.stricto_unclassified","trt":"Ap","value":0.03,"sig":"*"},{"taxon":"Otu00200_Clostridium.sensu.stricto_unclassified","trt":"CS","value":0.1,"sig":"*"},{"taxon":"Otu00200_Clostridium.sensu.stricto_unclassified","trt":"Bn","value":1,"sig":"**"},{"taxon":"Otu00200_Clostridium.sensu.stricto_unclassified","trt":"Tn","value":0.05,"sig":"*"},{"taxon":"Otu00200_Clostridium.sensu.stricto_unclassified","trt":"HAM2","value":0,"sig":""},{"taxon":"Otu00200_Clostridium.sensu.stricto_unclassified","trt":"PS","value":0,"sig":""},{"taxon":"Otu00200_Clostridium.sensu.stricto_unclassified","trt":"PS_Ba","value":0.35,"sig":"*"},{"taxon":"Otu00200_Clostridium.sensu.stricto_unclassified","trt":"PS_Rb","value":0,"sig":""},{"taxon":"Otu00200_Clostridium.sensu.stricto_unclassified","trt":"RS3_Ex","value":0,"sig":""},{"taxon":"Otu00200_Clostridium.sensu.stricto_unclassified","trt":"RS3_Wh","value":0,"sig":"*"},{"taxon":"Otu00200_Clostridium.sensu.stricto_unclassified","trt":"HAM4","value":0,"sig":""},{"taxon":"Otu00200_Clostridium.sensu.stricto_unclassified","trt":"Tap","value":0,"sig":""},
{"taxon":"Otu00221_Roseburia_intestinalis","trt":"Ap","value":0.05,"sig":""},{"taxon":"Otu00221_Roseburia_intestinalis","trt":"CS","value":0.1,"sig":""},{"taxon":"Otu00221_Roseburia_intestinalis","trt":"Bn","value":0.05,"sig":""},{"taxon":"Otu00221_Roseburia_intestinalis","trt":"Tn","value":0.05,"sig":""},{"taxon":"Otu00221_Roseburia_intestinalis","trt":"HAM2","value":0.3,"sig":""},{"taxon":"Otu00221_Roseburia_intestinalis","trt":"PS","value":0.15,"sig":""},{"taxon":"Otu00221_Roseburia_intestinalis","trt":"PS_Ba","value":0.4,"sig":"*"},{"taxon":"Otu00221_Roseburia_intestinalis","trt":"PS_Rb","value":0.1,"sig":""},{"taxon":"Otu00221_Roseburia_intestinalis","trt":"RS3_Ex","value":0,"sig":""},{"taxon":"Otu00221_Roseburia_intestinalis","trt":"RS3_Wh","value":1,"sig":"*"},{"taxon":"Otu00221_Roseburia_intestinalis","trt":"HAM4","value":0.3,"sig":""},{"taxon":"Otu00221_Roseburia_intestinalis","trt":"Tap","value":0.25,"sig":"*"}
]},
"encoding": {
 "x": {"field": "trt", "type": "nominal",
  "sort": ["Ap","CS","Bn","Tn","HAM2","PS","PS_Ba","PS_Rb","RS3_Ex","RS3_Wh","HAM4","Tap"],
  "scale": {"paddingInner": 0, "paddingOuter": 0},
  "axis": {"title": "Treatment", "labelAngle": 270, "labelFontSize": 14, "labelColor": "#4D4D4D", "labelPadding": 4, "tickSize": 3.5, "tickColor": "#333333", "domain": false, "titleFontSize": 17.5, "titleFontWeight": "normal", "titleColor": "#000000", "titleY": 86, "titleBaseline": "middle"}},
 "y": {"field": "taxon", "type": "nominal",
  "sort": ["Actinobacteria","Bacteroidetes","Firmicutes","Proteobacteria","Adlercreutzia","Anaerostipes","Bifidobacterium","Blautia","Collinsella","Lactobacillus","Mediterraneibacter","Roseburia","Ruminococcus","Streptococcus","Turicibacter","Otu00003_Collinsella_aerofaciens","Otu00004_Bifidobacterium_adolescentis","Otu00013_Ruminococcus_bromii","Otu00016_Lactobacillus_sakei","Otu00017_Blautia_wexlerae","Otu00026_Turicibacter_sanguinis","Otu00027_Roseburia_hominis","Otu00043_Blautia_faecis","Otu00045_Roseburia_inulinivorans","Otu00052_Clostridium_puniceum","Otu00053_Blautia_luti","Otu00055_Clostridium_argentinense","Otu00063_Clostridium_aciditolerans","Otu00067_X.Eubacterium._eligens","Otu00089_Anaerostipes_hadrus","Otu00119_Lactobacillus_rogosae","Otu00127_Adlercreutzia_equolifaciens","Otu00135_Ruminococcaceae_unclassified","Otu00142_Ruminococcaceae_unclassified","Otu00154_Paeniclostridium_sordellii","Otu00165_Collinsella_aerofaciens","Otu00168_Lachnospiraceae_unclassified","Otu00200_Clostridium.sensu.stricto_unclassified","Otu00221_Roseburia_intestinalis"],
  "scale": {"paddingInner": 0, "paddingOuter": 0},
  "axis": {"title": "Taxa", "labelFontSize": 14, "labelLimit": 400, "labelColor": "#4D4D4D", "labelPadding": 5, "tickSize": 3.5, "tickColor": "#333333", "domain": false, "titleFontSize": 17.5, "titleFontWeight": "normal", "titleColor": "#000000", "titleX": -330, "titleY": 296, "titleBaseline": "middle"}}
},
"layer": [
 {"mark": {"type": "rect"},
  "encoding": {"color": {"field": "value", "type": "quantitative",
   "scale": {"domain": [-1, 0, 1], "range": ["#0000FF", "#FFFFFF", "#FF0000"], "interpolate": "lab", "clamp": true},
   "legend": {"title": "Rel_Change", "orient": "none", "legendX": 356, "legendY": 213, "direction": "vertical", "gradientLength": 142, "gradientThickness": 28, "gradientStrokeWidth": 0, "values": [-1, -0.5, 0, 0.5, 1], "format": ".1f", "labelFontSize": 14.5, "labelColor": "#1A1A1A", "labelOffset": 8, "titleFontSize": 16.5, "titleFontWeight": "normal", "titleColor": "#000000", "titlePadding": 9}}}},
 {"mark": {"type": "text", "fontSize": 14, "baseline": "alphabetic", "dy": 6.5, "color": "#000000"},
  "encoding": {"text": {"field": "sig", "type": "nominal"}}}
]
}
